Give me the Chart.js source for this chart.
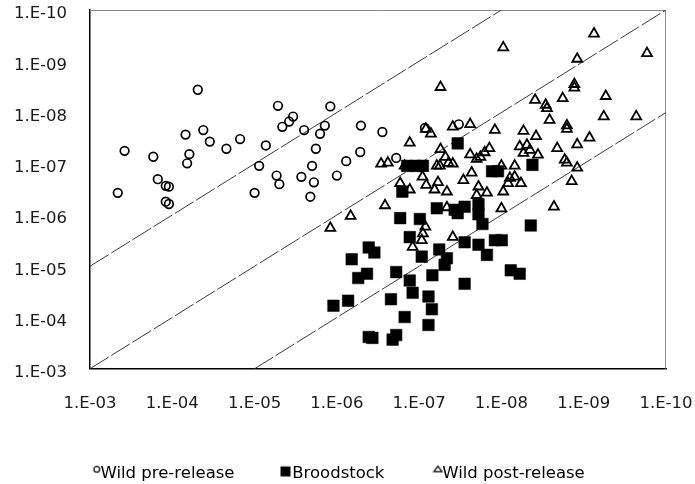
<!DOCTYPE html>
<html>
<head>
<meta charset="utf-8">
<script src="https://cdn.jsdelivr.net/npm/chart.js@4/dist/chart.umd.min.js"></script>
<style>
  html, body { margin: 0; padding: 0; background: #ffffff; }
  #wrap { width: 695px; height: 484px; }
</style>
</head>
<body>
<div id="wrap"><canvas id="c" width="695" height="484"></canvas></div>
<script>
// ---- tick values and labels (both axes, log scale, reversed) ----
const tickValues = [1e-3, 1e-4, 1e-5, 1e-6, 1e-7, 1e-8, 1e-9, 1e-10];
const tickLabels = ['1.E-03', '1.E-04', '1.E-05', '1.E-06', '1.E-07', '1.E-08', '1.E-09', '1.E-10'];

// ---- series names ----
const seriesNames = ['Wild pre-release', 'Broodstock', 'Wild post-release'];

// ---- Wild pre-release (open circles) ----
const preX = [4.6e-4, 3.8e-4, 1.7e-4, 1.5e-4, 1.2e-4, 1.1e-4, 1.2e-4, 1.1e-4, 6.9e-5, 6.2e-5,
              6.6e-5, 4.9e-5, 4.2e-5, 3.5e-5, 2.2e-5, 1.5e-5, 1.0e-5, 8.8e-6, 7.3e-6, 5.2e-6,
              5.4e-6, 5.0e-6, 4.6e-6, 3.8e-6, 3.4e-6, 2.7e-6, 2.5e-6, 2.0e-6, 1.8e-6, 1.9e-6,
              2.1e-6, 1.6e-6, 1.4e-6, 1.2e-6, 1.0e-6, 7.7e-7, 5.1e-7, 2.8e-7, 5.2e-7, 1.9e-7,
              8.5e-8, 3.3e-8];
const preY = [3.7e-7, 5.6e-8, 7.3e-8, 2.0e-7, 2.7e-7, 2.8e-7, 5.5e-7, 6.1e-7, 2.7e-8, 6.5e-8,
              9.8e-8, 3.6e-9, 2.2e-8, 3.7e-8, 5.1e-8, 3.3e-8, 3.7e-7, 1.1e-7, 4.4e-8, 7.4e-9,
              1.7e-7, 2.5e-7, 1.9e-8, 1.5e-8, 1.2e-8, 1.8e-7, 2.2e-8, 1.1e-7, 5.1e-8, 2.3e-7,
              4.4e-7, 2.6e-8, 1.8e-8, 7.6e-9, 1.7e-7, 8.9e-8, 1.8e-8, 2.4e-8, 5.9e-8, 7.7e-8,
              2.0e-8, 1.7e-8];

// ---- Broodstock (filled squares) ----
const broodX = [3.4e-8, 1.4e-7, 1.1e-7, 9.0e-8, 1.3e-8, 1.1e-8, 4.2e-9, 1.6e-7, 6.1e-8, 3.7e-8,
                3.4e-8, 2.8e-8, 1.9e-8, 1.9e-8, 1.7e-8, 1.7e-7, 9.8e-8, 4.4e-9, 1.3e-7, 4.1e-7,
                3.5e-7, 6.6e-7, 9.3e-8, 5.7e-8, 4.6e-8, 4.9e-8, 2.8e-8, 1.9e-8, 1.5e-8, 1.2e-8,
                9.9e-9, 4.3e-7, 5.5e-7, 1.9e-7, 1.3e-7, 6.9e-8, 2.8e-8, 7.7e-9, 6.0e-9, 7.3e-7,
                1.1e-6, 2.2e-7, 1.2e-7, 7.7e-8, 7.0e-8, 1.5e-7, 7.7e-8, 4.1e-7, 3.7e-7, 2.1e-7,
                1.9e-7];
const broodY = [4.0e-8, 1.1e-7, 1.1e-7, 1.1e-7, 1.4e-7, 1.4e-7, 1.05e-7, 3.5e-7, 7.4e-7, 7.9e-7,
                9.2e-7, 6.9e-7, 6.2e-7, 9.7e-7, 1.5e-6, 1.15e-6, 1.2e-6, 1.6e-6, 2.7e-6, 4.3e-6,
                5.4e-6, 7.3e-6, 6.5e-6, 4.7e-6, 7.0e-6, 9.4e-6, 3.4e-6, 3.8e-6, 6.0e-6, 3.1e-6,
                3.1e-6, 1.4e-5, 1.7e-5, 1.3e-5, 1.9e-5, 1.5e-5, 2.2e-5, 1.2e-5, 1.4e-5, 4.7e-5,
                5.9e-5, 4.4e-5, 3.3e-5, 3.9e-5, 6.9e-5, 9.8e-5, 1.4e-4, 2.4e-4, 2.5e-4, 2.7e-4,
                2.2e-4];

// ---- Wild post-release (open triangles) ----
const postX = [7.5e-10, 9.5e-9, 1.7e-10, 1.2e-9, 5.5e-8, 1.3e-9, 1.3e-9, 3.9e-9, 2.9e-9, 2.8e-9,
               1.8e-9, 5.4e-10, 2.6e-9, 5.7e-10, 2.3e-10, 1.6e-9, 1.6e-9, 8.3e-8, 7.2e-8, 3.9e-8,
               2.4e-8, 1.2e-8, 5.4e-9, 3.8e-9, 8.5e-10, 1.2e-9, 2.1e-9, 6.0e-9, 4.9e-9, 4.5e-9,
               5.4e-9, 3.6e-9, 1.3e-7, 5.5e-8, 4.8e-8, 4.4e-8, 3.9e-8, 5.6e-8, 2.4e-8, 2.0e-8,
               1.8e-8, 1.6e-8, 1.4e-8, 2.3e-8, 2.9e-8, 1.9e-8, 1.5e-8, 2.0e-8, 1.0e-8, 6.9e-9,
               7.9e-9, 6.9e-9, 5.8e-9, 8.3e-9, 9.5e-9, 1.7e-9, 1.6e-9, 1.2e-9, 1.4e-9, 2.9e-7,
               2.4e-7, 1.5e-7, 6.1e-8, 1.7e-7, 1.3e-7, 9.1e-8, 8.2e-8, 5.9e-8, 6.5e-8, 4.6e-8,
               2.6e-7, 6.8e-7, 1.2e-6, 1.0e-8, 2.3e-9, 8.4e-8, 9.0e-8, 9.3e-8, 1.2e-7, 3.9e-8,
               4.6e-8];
const postY = [2.9e-10, 5.4e-10, 7.0e-10, 9.0e-10, 3.2e-9, 2.8e-9, 3.3e-9, 5.7e-9, 7.1e-9, 8.3e-9,
               5.3e-9, 4.8e-9, 1.4e-8, 1.2e-8, 1.2e-8, 1.8e-8, 2.1e-8, 2.1e-8, 2.6e-8, 1.9e-8,
               1.7e-8, 2.2e-8, 2.3e-8, 2.9e-8, 3.1e-8, 4.2e-8, 5.0e-8, 4.6e-8, 4.3e-8, 5.4e-8,
               6.2e-8, 6.7e-8, 3.9e-8, 5.2e-8, 7.4e-8, 9.7e-8, 1.0e-7, 1.1e-7, 6.6e-8, 8.1e-8,
               7.4e-8, 6.0e-8, 5.0e-8, 1.5e-7, 2.1e-7, 2.8e-7, 3.7e-7, 4.1e-7, 1.1e-7, 1.1e-7,
               1.9e-7, 1.8e-7, 2.4e-7, 2.4e-7, 3.5e-7, 8.4e-8, 9.6e-8, 1.2e-7, 2.2e-7, 1.0e-7,
               9.6e-8, 1.1e-7, 1.1e-7, 2.4e-7, 3.2e-7, 1.8e-7, 2.6e-7, 2.3e-7, 3.2e-7, 3.5e-7,
               6.5e-7, 1.05e-6, 1.8e-6, 7.5e-7, 6.9e-7, 1.7e-6, 2.3e-6, 3.1e-6, 4.2e-6, 2.7e-6,
               7.1e-7];

// ---- reference lines (y = x/100, y = x, y = 100x) ----
const refUpperX = [1e-3, 1e-8];
const refUpperY = [1e-5, 1e-10];
const refMidX = [1e-3, 1e-10];
const refMidY = [1e-3, 1e-10];
const refLowerX = [1e-5, 1e-10];
const refLowerY = [1e-3, 1e-8];

const pts = (xs, ys) => xs.map((x, i) => ({x: x, y: ys[i]}));

function tickText(v) {
  for (let i = 0; i < tickValues.length; i++) {
    if (Math.abs(Math.log10(v) - Math.log10(tickValues[i])) < 1e-6) return tickLabels[i];
  }
  return '';
}

const FONT = 'DejaVu Sans';

const refLine = (xs, ys) => ({
  data: pts(xs, ys),
  showLine: true,
  borderColor: '#3a3a3a',
  borderWidth: 1,
  borderDash: [22, 3],
  pointRadius: 0,
  pointHoverRadius: 0,
  fill: false
});

// small legend glyphs (raised, like the superscript markers in the original)
function legendGlyph(kind) {
  const cv = document.createElement('canvas');
  cv.width = 24; cv.height = 24;
  const g = cv.getContext('2d');
  g.strokeStyle = '#000'; g.fillStyle = '#000';
  if (kind === 'circle') {
    g.lineWidth = 1.2;
    g.beginPath(); g.arc(17, 7.5, 2.9, 0, Math.PI * 2); g.stroke();
  } else if (kind === 'rect') {
    g.fillRect(9, 4.7, 10, 10);
  } else {
    g.lineWidth = 1.2;
    g.beginPath();
    g.moveTo(16.5, 4.3); g.lineTo(20.6, 9.8); g.lineTo(12.4, 9.8); g.closePath();
    g.stroke();
  }
  return cv;
}
const legendGlyphs = [legendGlyph('circle'), legendGlyph('rect'), legendGlyph('triangle')];

const frameTopRight = {
  id: 'frameTopRight',
  beforeDatasetsDraw(chart) {
    const a = chart.chartArea, ctx = chart.ctx;
    ctx.save();
    ctx.strokeStyle = '#8a8a8a';
    ctx.lineWidth = 1;
    ctx.beginPath();
    ctx.moveTo(a.left, a.top + 0.5);
    ctx.lineTo(a.right - 0.5, a.top + 0.5);
    ctx.lineTo(a.right - 0.5, a.bottom);
    ctx.stroke();
    ctx.restore();
  }
};

new Chart(document.getElementById('c'), {
  type: 'scatter',
  data: {
    datasets: [
      {
        label: seriesNames[0],
        data: pts(preX, preY),
        pointStyle: 'circle',
        pointRadius: 4.3,
        borderWidth: 1.7,
        borderColor: '#000000',
        backgroundColor: 'rgba(0,0,0,0)'
      },
      {
        label: seriesNames[1],
        data: pts(broodX, broodY),
        pointStyle: 'rect',
        pointRadius: 8.2,
        borderWidth: 0.5,
        borderColor: '#000000',
        backgroundColor: '#000000'
      },
      {
        label: seriesNames[2],
        data: pts(postX, postY),
        pointStyle: 'triangle',
        pointRadius: 5.7,
        borderWidth: 1.8,
        borderColor: '#000000',
        backgroundColor: 'rgba(0,0,0,0)'
      },
      refLine(refUpperX, refUpperY),
      refLine(refMidX, refMidY),
      refLine(refLowerX, refLowerY)
    ]
  },
  options: {
    responsive: false,
    animation: false,
    devicePixelRatio: 1,
    layout: { padding: { top: 10, right: 29, left: 10, bottom: -8 } },
    plugins: {
      tooltip: { enabled: false },
      legend: {
        position: 'bottom',
        labels: {
          usePointStyle: true,
          boxWidth: 1,
          boxHeight: 7,
          padding: 48.5,
          color: '#000000',
          font: { family: FONT, size: 16.5 },
          filter: item => item.datasetIndex < 3,
          generateLabels: chart => {
            const items = Chart.defaults.plugins.legend.labels.generateLabels(chart);
            items.forEach(it => {
              if (it.datasetIndex < 3) it.pointStyle = legendGlyphs[it.datasetIndex];
            });
            return items;
          }
        }
      }
    },
    scales: {
      x: {
        type: 'logarithmic',
        reverse: true,
        min: 1e-10,
        max: 1e-3,
        afterBuildTicks: s => { s.ticks = tickValues.map(v => ({value: v})); },
        afterFit: s => { s.height = 48.25; s.paddingLeft = 0; s.paddingRight = 0; },
        grid: { display: false, drawTicks: false },
        border: { display: true, color: '#000000', width: 1.5 },
        ticks: {
          autoSkip: false,
          maxRotation: 0,
          minRotation: 0,
          padding: 25,
          color: '#1a1a1a',
          font: { family: FONT, size: 16.5 },
          callback: v => tickText(v)
        }
      },
      y: {
        type: 'logarithmic',
        reverse: true,
        min: 1e-10,
        max: 1e-3,
        afterBuildTicks: s => { s.ticks = tickValues.map(v => ({value: v})); },
        afterFit: s => { s.width = 80; s.paddingTop = 0; s.paddingBottom = 0; },
        grid: { display: false, drawTicks: false },
        border: { display: true, color: '#000000', width: 1.5 },
        ticks: {
          autoSkip: false,
          padding: 23,
          labelOffset: 4,
          color: '#1a1a1a',
          font: { family: FONT, size: 16.5 },
          callback: v => tickText(v)
        }
      }
    }
  },
  plugins: [frameTopRight]
});
</script>
</body>
</html>
